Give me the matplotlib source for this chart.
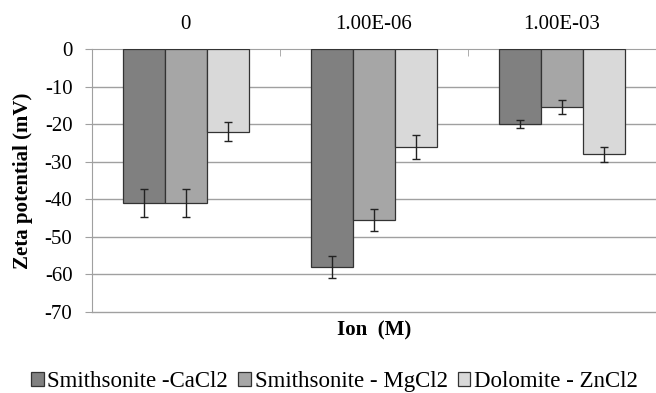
import matplotlib.pyplot as plt
import numpy as np

plt.rcParams['font.family'] = ['Liberation Serif', 'DejaVu Serif']
plt.rcParams['axes.unicode_minus'] = False

categories = ['0', '1.00E-06', '1.00E-03']
series_names = ['Smithsonite -CaCl2', 'Smithsonite - MgCl2', 'Dolomite - ZnCl2']
cacl2 = [-41, -58, -20]
mgcl2 = [-41, -45.5, -15.5]
zncl2 = [-22, -26, -28]
cacl2_err = [3.7, 3.0, 1.0]
mgcl2_err = [3.7, 2.9, 1.9]
zncl2_err = [2.5, 3.2, 2.0]
colors = ['#808080', '#a6a6a6', '#d9d9d9']

fig = plt.figure(figsize=(6.56, 3.93), dpi=100)
ax = fig.add_axes([0.140, 0.206, 0.860, 0.669])

x = np.arange(len(categories))
w = 0.223
values = [cacl2, mgcl2, zncl2]
errs = [cacl2_err, mgcl2_err, zncl2_err]
for i, (vals, err) in enumerate(zip(values, errs)):
    ax.bar(x + (i - 1) * w, vals, w, color=colors[i], edgecolor='#333333',
           linewidth=0.9, label=series_names[i], zorder=3,
           yerr=err, error_kw=dict(ecolor='#222222', elinewidth=1, capsize=3, capthick=1))

ax.set_xlim(-0.5, 2.5)
ax.set_ylim(-70, 0)
ax.set_yticks(range(-70, 1, 10))
for yv in range(-70, 0, 10):
    ax.axhline(yv, color='#a0a0a0', linewidth=1, zorder=0, clip_on=False)

ax.xaxis.tick_top()
ax.set_xticks(x)
ax.set_xticklabels(categories, fontsize=15)
ax.tick_params(axis='x', which='major', length=0, pad=11)
ax.set_xticks([0.5, 1.5, 2.5], minor=True)
ax.tick_params(axis='x', which='minor', direction='in', length=5, color='#a0a0a0')
ax.tick_params(axis='y', labelsize=15, length=5, color='#a0a0a0', pad=9)

for s in ['right', 'bottom']:
    ax.spines[s].set_visible(False)
for s in ['top', 'left']:
    ax.spines[s].set_color('#a0a0a0')

ax.set_ylabel('Zeta potential (mV)', fontsize=15, fontweight='bold')
ax.yaxis.set_label_coords(-0.105, 0.5)
ax.xaxis.set_label_position('bottom')
ax.set_xlabel('Ion  (M)', fontsize=15, fontweight='bold', labelpad=6)

fig.legend(loc='center', bbox_to_anchor=(0.510, 0.028), ncol=3, frameon=False,
           fontsize=16.5, handlelength=0.55, handleheight=0.55, handletextpad=0.15,
           columnspacing=0.45, borderpad=0)

fig.savefig('out.png', dpi=100)
